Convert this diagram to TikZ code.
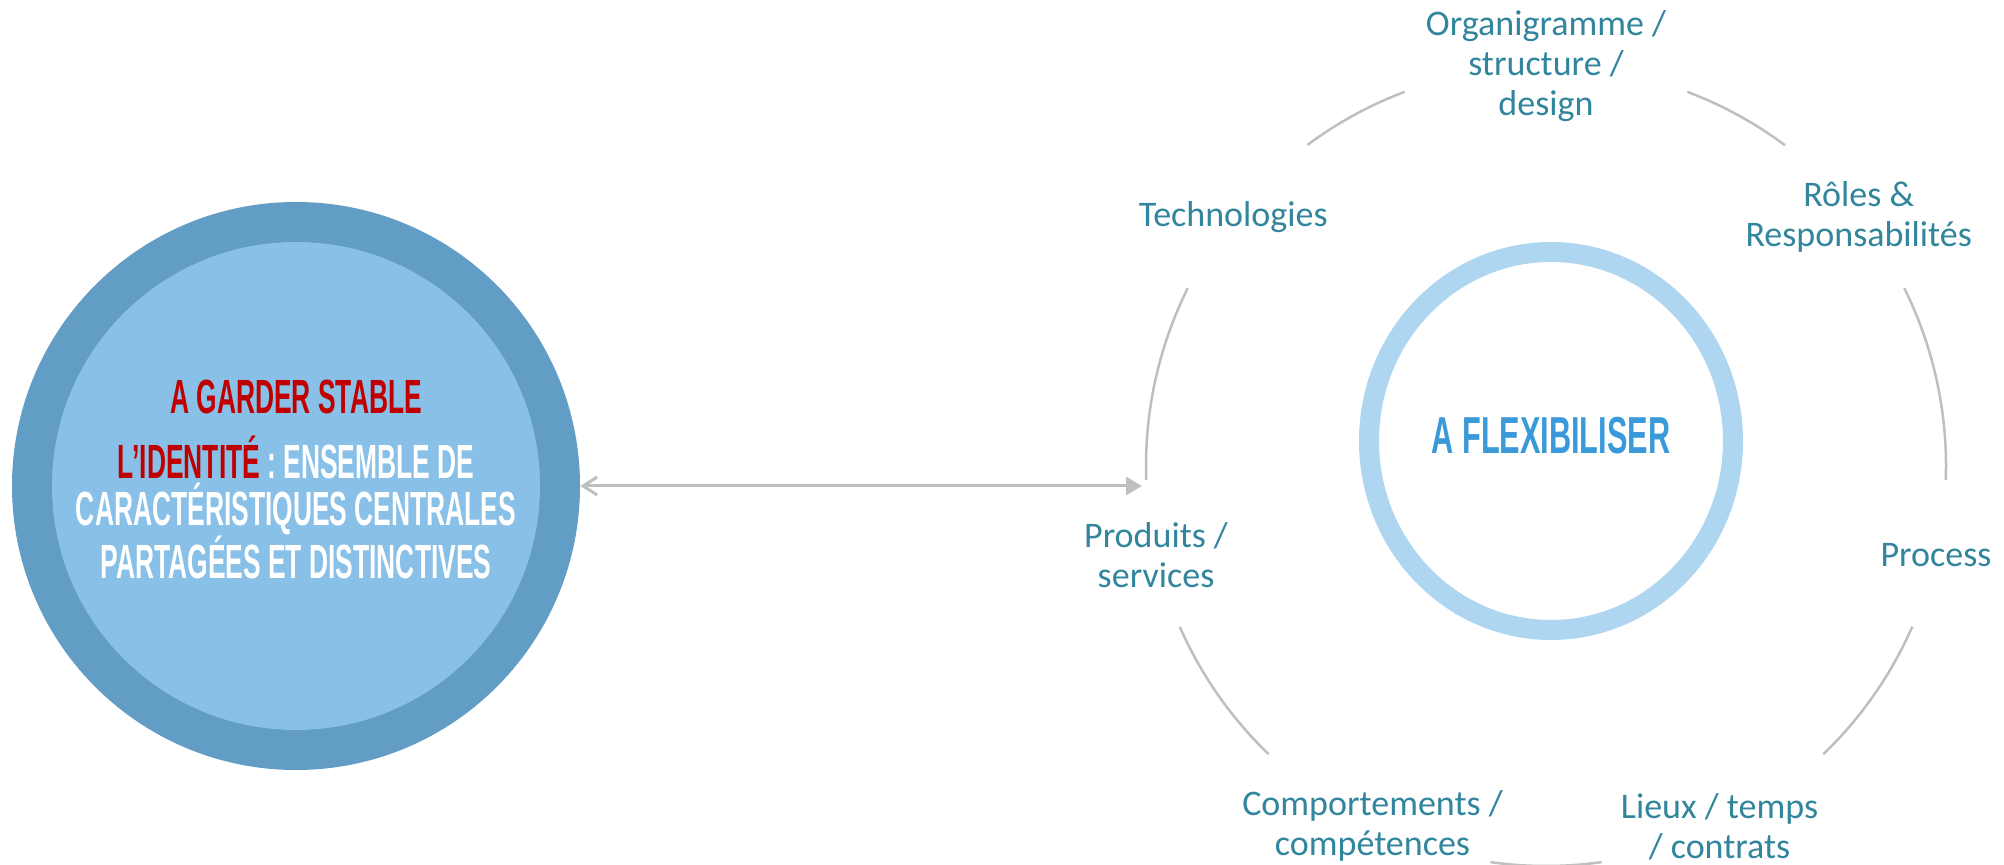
\documentclass[tikz,border=0pt]{standalone}
\usepackage{fontspec}
\setmainfont{Carlito}
\newfontfamily\capsfont[FakeStretch=0.55]{Liberation Sans}
\newfontfamily\flexfont[FakeStretch=0.59]{Liberation Sans}
\usetikzlibrary{arrows.meta,shapes.geometric}
\definecolor{coreouter}{HTML}{629DC6}
\definecolor{coreinner}{HTML}{88C0E7}
\definecolor{idred}{HTML}{C00000}
\definecolor{flexring}{HTML}{AED6F0}
\definecolor{flexblue}{HTML}{3A9AD9}
\definecolor{labelteal}{HTML}{31859C}
\definecolor{arcgray}{HTML}{BFBFBF}

\begin{document}
\begin{tikzpicture}[x=0.5pt,y=0.5pt,
  lbl/.style={font=\fontsize{18}{20}\selectfont, text=labelteal, align=center, inner sep=0pt},
  caps/.style={font=\capsfont\bfseries\fontsize{24}{23.25}\selectfont, inner sep=0pt, align=center},
  cyclearc/.style={draw=arcgray, line width=1.25pt},
  linkarrow/.style={draw=arcgray, line width=1.5pt,
    arrows={Straight Barb[length=7pt,width=9pt]-Triangle[length=8pt,width=9pt]}}]
\useasboundingbox (0,0) rectangle (2004,-865);

% stable core on the left
\node[circle, fill=coreouter, minimum size=284pt, inner sep=0pt] (core) at (296,-486) {};
\node[circle, fill=coreinner, minimum size=244pt, inner sep=0pt] (coreIn) at (296,-486) {};
\node[caps, text=idred, anchor=base] (keep) at (296,-414) {A GARDER STABLE};
% the base anchor of a multi-line node sits on its last line
\node[caps, text=white, anchor=base] (identity) at (296,-579)
  {\textcolor{idred}{L’IDENTITÉ} : ENSEMBLE DE\\CARACTÉRISTIQUES CENTRALES\\PARTAGÉES ET DISTINCTIVES};

% flexible centre on the right
\node[ellipse, draw=flexring, line width=10pt, minimum width=182pt, minimum height=189pt, inner sep=0pt] (flex) at (1551,-441) {};
\node[font=\flexfont\bfseries\fontsize{26}{26}\selectfont, text=flexblue, inner sep=0pt, anchor=base] (flexText) at (1551,-454) {A FLEXIBILISER};

% cycle of flexible elements
\coordinate (cyc) at (1546,-466);
\foreach \a/\b in {110.7/126.6, 53.3/69.3, -2/26.4, 153.6/182, 203.7/226.1, -46.1/-23.7, 262/278}
  \draw[cyclearc] ([shift={(\a:200pt)}]cyc) arc[start angle=\a, end angle=\b, radius=200pt];

\node[lbl] (org)  at ([shift={(90:200pt)}]cyc)     {Organigramme /\\structure /\\design};
\node[lbl] (role) at ([shift={(38.57:200pt)}]cyc)  {Rôles \&\\Responsabilités};
\node[lbl] (proc) at ([shift={(-12.86:200pt)}]cyc) {Process};
\node[lbl] (lieu) at ([shift={(-64.29:200pt)}]cyc) {Lieux / temps\\/ contrats};
\node[lbl] (comp) at ([shift={(-115.71:200pt)}]cyc) {Comportements /\\compétences};
\node[lbl] (prod) at ([shift={(-167.14:200pt)}]cyc) {Produits /\\services};
\node[lbl] (tech) at ([shift={(141.43:200pt)}]cyc) {Technologies};

% link between the core and the cycle
\coordinate (cycW) at (1142,-486);
\draw[linkarrow] (core.east) -- (cycW);
\end{tikzpicture}
\end{document}
